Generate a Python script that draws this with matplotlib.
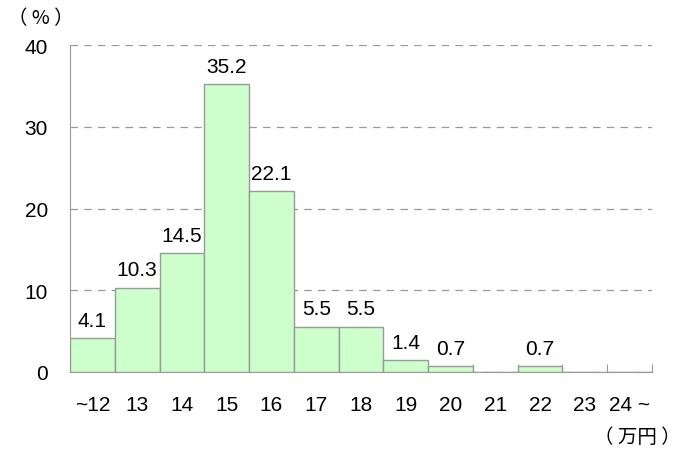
import matplotlib.pyplot as plt
import numpy as np

plt.rcParams['font.family'] = ['Liberation Sans', 'Noto Sans CJK JP', 'DejaVu Sans']

# データ：月額（万円）別の割合（%）
categories = ['~12', '13', '14', '15', '16', '17', '18', '19', '20', '21', '22', '23', '24 ~']
values = [4.1, 10.3, 14.5, 35.2, 22.1, 5.5, 5.5, 1.4, 0.7, 0.0, 0.7, 0.0, 0.0]
yticks = [0, 10, 20, 30, 40]

fig = plt.figure(figsize=(6.83, 4.52), dpi=100)
ax = fig.add_axes([0.1025, 0.175, 0.852, 0.723])

x = np.arange(len(categories))
ax.bar(x, values, width=1.0, color='#CCFFCC', edgecolor='#999999',
       linewidth=1.0, zorder=3)

# 値ラベル（0 は表示しない）
for xi, v in zip(x, values):
    if v > 0:
        ax.text(xi, v + 1.55, f'{v:.1f}', ha='center', va='baseline',
                fontsize=15)

ax.set_xlim(-0.5, len(categories) - 0.5)
ax.set_ylim(0, 40)
ax.set_yticks(yticks)
ax.set_yticklabels([str(t) for t in yticks], fontsize=15)
ax.tick_params(axis='y', length=0, pad=16)

# 目盛は区切り位置に内向き
ax.set_xticks(np.arange(-0.5, len(categories), 1.0))
ax.set_xticklabels([])
ax.tick_params(axis='x', direction='in', length=6, color='#999999')
for xi, lab in zip(x, categories):
    ax.text(xi, -4.65, lab, ha='center', va='baseline', fontsize=15)

ax.grid(axis='y', linestyle=(0, (6, 5)), color='#999999', linewidth=0.9, zorder=0)
ax.spines['top'].set_visible(False)
ax.spines['right'].set_visible(False)
ax.spines['left'].set_color('#999999')
ax.spines['bottom'].set_color('#999999')

fig.text(8 / 683, 1 - 19 / 452, '（ % ）', fontsize=14, va='center', ha='left',
         family=['Noto Sans CJK JP', 'DejaVu Sans'])
fig.text(681 / 683, 1 - 438 / 452, '（ 万円 ）', fontsize=14, va='center', ha='right',
         family=['Noto Sans CJK JP', 'DejaVu Sans'])

fig.savefig('out.png', dpi=100)
